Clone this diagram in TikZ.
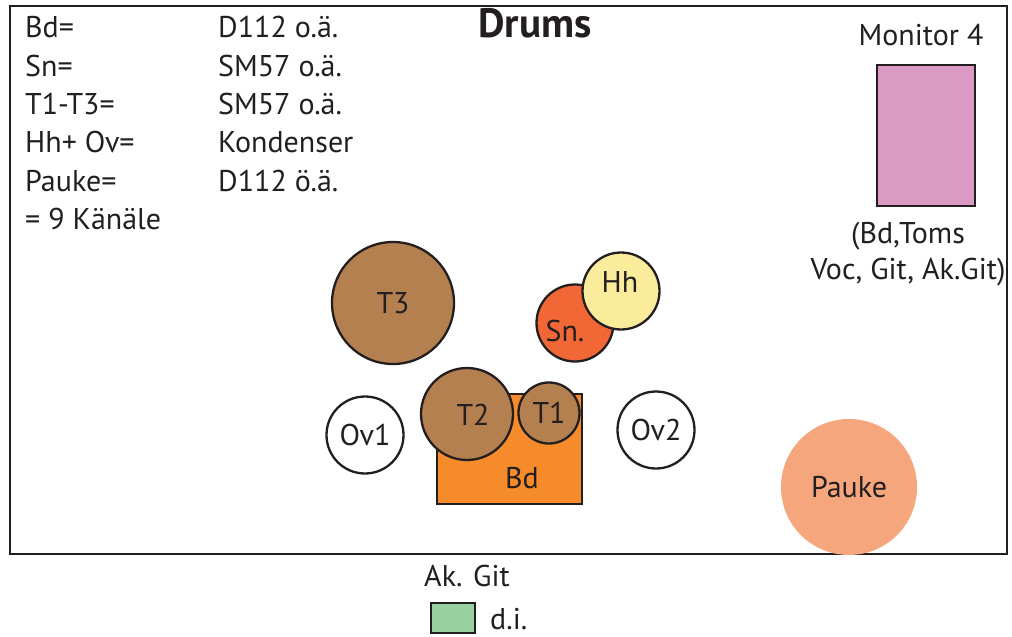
\documentclass[tikz,border=0pt]{standalone}
\usepackage{fontspec}
\setmainfont{PT Sans}
\definecolor{tomcol}{RGB}{181,128,80}
\definecolor{sncol}{RGB}{241,103,53}
\definecolor{hhcol}{RGB}{251,236,156}
\definecolor{bdcol}{RGB}{245,139,43}
\definecolor{moncol}{RGB}{218,154,196}
\definecolor{paucol}{RGB}{245,166,125}
\definecolor{gitcol}{RGB}{152,208,160}
\definecolor{linecol}{RGB}{35,31,32}
\begin{document}
\begin{tikzpicture}[x=1pt,y=-1pt]
    \tikzset{txt/.style={font=\fontsize{30}{36}\selectfont,text=linecol,inner sep=0pt},
             drum/.style={circle,draw=linecol,line width=2.3pt,inner sep=0pt,txt},
             box/.style={draw=linecol,line width=2.3pt}};
    \useasboundingbox (0,0) rectangle (1012,637);
    \draw[line width=2.5pt,linecol] (10,6) rectangle (1007,554);
    % Titel
    \node[txt,font=\fontsize{41}{44}\selectfont\bfseries,anchor=base] (titel) at (535,37) {Drums};
    % Mikrofone
    \node[txt,anchor=base west] (l1) at (25,37) {Bd=};
    \node[txt,anchor=base west] (l2) at (25,76) {Sn=};
    \node[txt,anchor=base west] (l3) at (25,114) {T1-T3=};
    \node[txt,anchor=base west] (l4) at (25,152) {Hh+ Ov=};
    \node[txt,anchor=base west] (l5) at (25,191) {Pauke=};
    \node[txt,anchor=base west] (l6) at (25,229) {= 9 Känäle};
    \node[txt,anchor=base west] (r1) at (218,37) {D112 o.ä.};
    \node[txt,anchor=base west] (r2) at (218,76) {SM57 o.ä.};
    \node[txt,anchor=base west] (r3) at (218,114) {SM57 o.ä.};
    \node[txt,anchor=base west] (r4) at (218,152) {Kondenser};
    \node[txt,anchor=base west] (r5) at (218,191) {D112 ö.ä.};
    % Monitor
    \node[txt,anchor=base] (montxt) at (921,45) {Monitor 4};
    \node[box,fill=moncol,minimum width=98pt,minimum height=141pt] (mon) at (926,135.5) {};
    \node[txt,anchor=base] (monmix1) at (908,243) {(Bd,Toms};
    \node[txt,anchor=base] (monmix2) at (908,279) {Voc, Git, Ak.Git)};
    % Schlagzeug
    \node[drum,fill=tomcol,minimum size=122pt] (t3) at (393,303) {T3};
    \node[drum,fill=sncol,minimum size=77pt] (sn) at (575,323) {};
    \node[txt] (snlab) at (565,331) {Sn.};
    \node[drum,fill=hhcol,minimum size=77pt] (hh) at (621,291) {};
    \node[txt] (hhlab) at (620,282) {Hh};
    \node[box,fill=bdcol,minimum width=145pt,minimum height=110pt] (bd) at (509.5,449) {};
    \node[txt] (bdlab) at (522,478) {Bd};
    \node[drum,fill=tomcol,minimum size=92pt] (t2) at (467,414) {};
    \node[txt] (t2lab) at (473,415) {T2};
    \node[drum,fill=tomcol,minimum size=61pt] (t1) at (549,413) {T1};
    \node[drum,fill=white,minimum size=77pt] (ov1) at (365,435) {Ov1};
    \node[drum,fill=white,minimum size=77pt] (ov2) at (656,430) {Ov2};
    \node[circle,fill=paucol,minimum size=136pt,txt] (pauke) at (849,487) {Pauke};
    % Ak. Gitarre
    \node[txt,anchor=base] (gittxt) at (467,586) {Ak. Git};
    \node[box,fill=gitcol,minimum width=44pt,minimum height=30pt] (di) at (453,618) {};
    \node[txt,anchor=base west] (ditxt) at (490,629) {d.i.};
\end{tikzpicture}
\end{document}
